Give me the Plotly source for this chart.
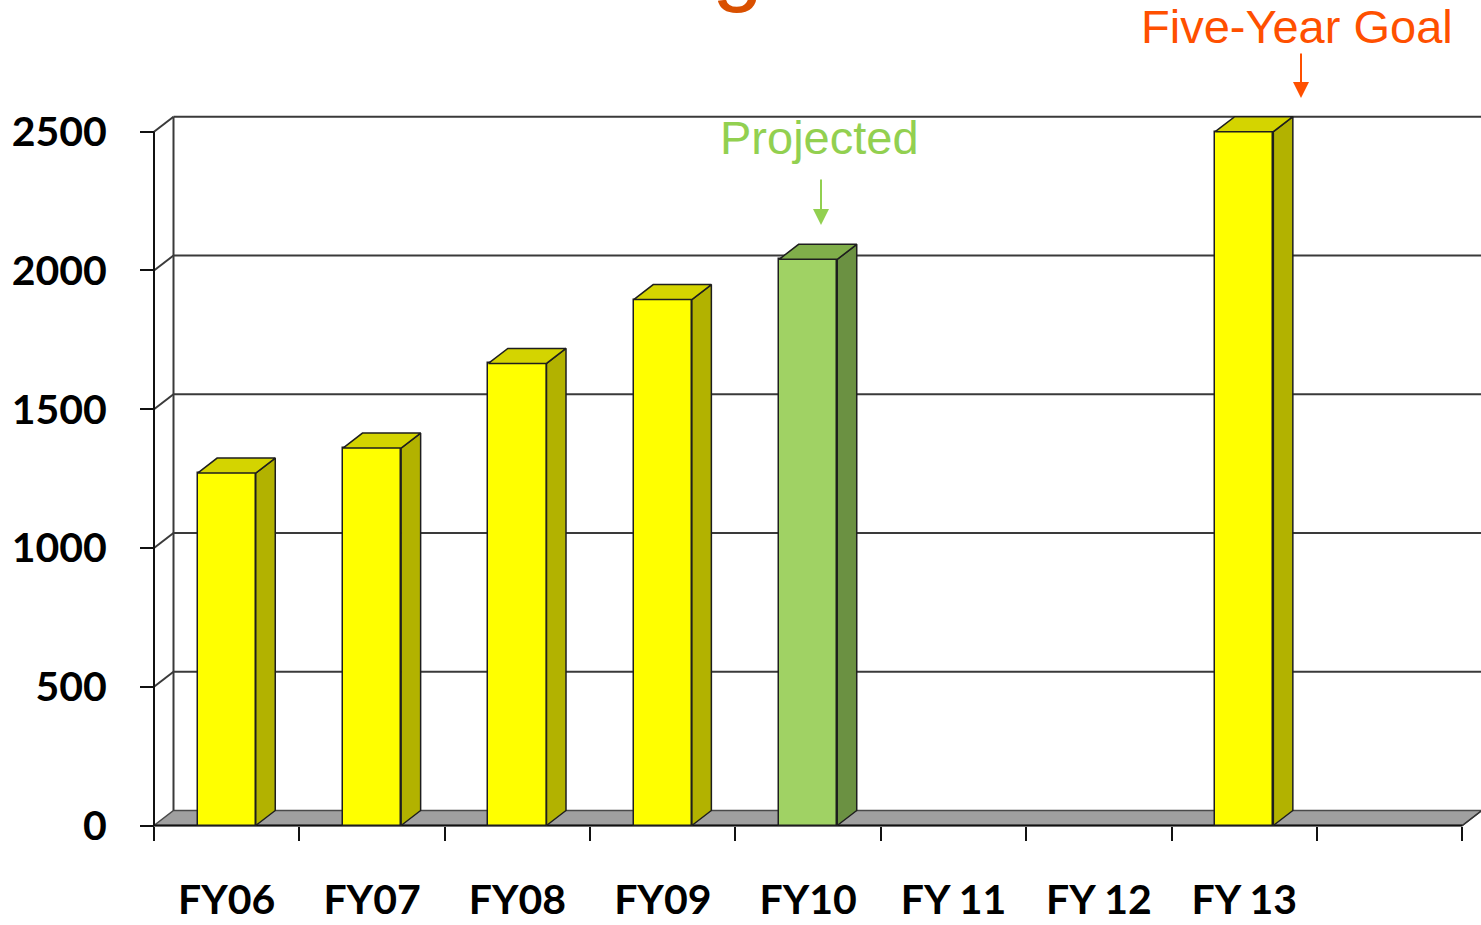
import plotly.graph_objects as go

# ---------------- data ----------------
categories = ["FY06", "FY07", "FY08", "FY09", "FY10", "FY 11", "FY 12", "FY 13", ""]
values = [1270, 1360, 1665, 1895, 2040, None, None, 2500, None]
status = ["actual", "actual", "actual", "actual", "projected", "none", "none", "goal", "none"]
y_ticks = [0, 500, 1000, 1500, 2000, 2500]

# ---------------- styling / geometry ----------------
W, H = 1481, 925
ML, MR, MT, MB = 140, 0, 100, 80
PLOT_W = W - ML - MR
PLOT_H = H - MT - MB

X0_PX = 154.0          # pixel of left category boundary
PX_PER_CAT = 145.37
Y0_PX = 825.5          # pixel of value 0
PX_PER_UNIT = 0.27752

def px2x(px):
    return -0.5 + (px - X0_PX) / PX_PER_CAT

def py2y(py):
    return (Y0_PX - py) / PX_PER_UNIT

def paper_x(px):
    return (px - ML) / PLOT_W

def paper_y(py):
    return (H - MB - py) / PLOT_H

x_range = [px2x(ML), px2x(W - MR)]
y_range = [py2y(H - MB), py2y(MT)]

DX = 19.5 / PX_PER_CAT     # depth offset in x units
DY = 15.0 / PX_PER_UNIT    # depth offset in y units
BAR_W = 0.40
n = len(categories)
left_edge = -0.5
right_edge = n - 0.5

colors = {
    "actual": dict(front="#FFFF00", top="#D4D400", side="#B2B200"),
    "goal": dict(front="#FFFF00", top="#D4D400", side="#B2B200"),
    "projected": dict(front="#A0D264", top="#80AE4A", side="#6B9142"),
}
EDGE = "#1E1E1E"
GRID = "#3A3A3A"

fig = go.Figure()

# ---------- walls, floor and gridlines (layout shapes, below traces) ----------
shapes = []
shapes.append(dict(
    type="path", xref="x", yref="y", layer="below",
    path=f"M {left_edge},0 L {right_edge},0 L {right_edge+DX},{DY} L {left_edge+DX},{DY} Z",
    fillcolor="#A0A0A0", line=dict(color="#4A4A4A", width=1.5)))
shapes.append(dict(type="line", xref="x", yref="y", layer="below",
                   x0=left_edge, y0=0, x1=right_edge, y1=0,
                   line=dict(color="#111111", width=2)))
shapes.append(dict(type="line", xref="x", yref="y", layer="below",
                   x0=right_edge, y0=0, x1=right_edge + DX, y1=DY,
                   line=dict(color="#333333", width=1.5)))
for v in y_ticks[1:]:
    shapes.append(dict(type="line", xref="x", yref="y", layer="below",
                       x0=left_edge, y0=v, x1=left_edge + DX, y1=v + DY,
                       line=dict(color=GRID, width=2)))
    shapes.append(dict(type="line", xref="x", yref="y", layer="below",
                       x0=left_edge + DX, y0=v + DY, x1=x_range[1] + 1, y1=v + DY,
                       line=dict(color=GRID, width=2)))
shapes.append(dict(type="line", xref="x", yref="y", layer="below",
                   x0=left_edge, y0=0, x1=left_edge, y1=y_ticks[-1],
                   line=dict(color="#111111", width=2)))
shapes.append(dict(type="line", xref="x", yref="y", layer="below",
                   x0=left_edge + DX, y0=DY, x1=left_edge + DX, y1=y_ticks[-1] + DY,
                   line=dict(color=GRID, width=2)))

# ---------- bars: front faces ----------
idx = list(range(n))
front_colors = [colors[s]["front"] if s in colors else "rgba(0,0,0,0)" for s in status]
fig.add_trace(go.Bar(
    x=idx, y=values, width=BAR_W,
    marker=dict(color=front_colors, line=dict(color=EDGE, width=1.5)),
    hoverinfo="skip", showlegend=False))

# ---------- bars: side and top faces ----------
for i, (v, s) in enumerate(zip(values, status)):
    if v is None:
        continue
    c = colors[s]
    xl, xr = i - BAR_W / 2, i + BAR_W / 2
    fig.add_trace(go.Scatter(
        x=[xr, xr + DX, xr + DX, xr, xr], y=[0, DY, v + DY, v, 0],
        mode="lines", fill="toself", fillcolor=c["side"],
        line=dict(color=EDGE, width=1.5), hoverinfo="skip", showlegend=False))
    fig.add_trace(go.Scatter(
        x=[xl, xr, xr + DX, xl + DX, xl], y=[v, v, v + DY, v + DY, v],
        mode="lines", fill="toself", fillcolor=c["top"],
        line=dict(color=EDGE, width=1.5), hoverinfo="skip", showlegend=False))

# ---------- annotations ----------
annotations = [
    dict(text="g", xref="paper", yref="paper", x=paper_x(737), y=paper_y(-38),
         xanchor="center", yanchor="middle", showarrow=False,
         font=dict(family="Liberation Sans, Arial", size=92, color="#D95000")),
    dict(text="Projected", xref="paper", yref="paper", x=paper_x(819.5), y=paper_y(137.0),
         xanchor="center", yanchor="middle", showarrow=False,
         font=dict(family="Liberation Sans, Arial", size=47, color="#92D050")),
    dict(text="", xref="paper", yref="paper", x=paper_x(821), y=paper_y(225),
         ax=0, ay=-47, showarrow=True, arrowhead=2, arrowsize=1.6, arrowwidth=2,
         arrowcolor="#92D050"),
    dict(text="Five-Year Goal", xref="paper", yref="paper", x=paper_x(1296.5), y=paper_y(27.0),
         xanchor="center", yanchor="middle", showarrow=False,
         font=dict(family="Liberation Sans, Arial", size=47, color="#FF5000")),
    dict(text="", xref="paper", yref="paper", x=paper_x(1301), y=paper_y(98),
         ax=0, ay=-46, showarrow=True, arrowhead=2, arrowsize=1.6, arrowwidth=2,
         arrowcolor="#FF5000"),
]

fig.update_layout(
    width=W, height=H,
    margin=dict(l=ML, r=MR, t=MT, b=MB, pad=0, autoexpand=False),
    paper_bgcolor="white", plot_bgcolor="white",
    showlegend=False, bargap=0,
    shapes=shapes, annotations=annotations,
    xaxis=dict(
        range=x_range, anchor="free", position=paper_y(Y0_PX), automargin=False,
        tickmode="array", tickvals=idx, ticktext=categories,
        ticks="", showline=False, showgrid=False, zeroline=False,
        tickfont=dict(family="Lato", size=41, color="black", weight="bold"),
        ticklabelstandoff=46,
        minor=dict(tickmode="array", tickvals=[i - 0.5 for i in range(n + 1)],
                   ticks="outside", ticklen=14, tickwidth=2, tickcolor="#111111",
                   showgrid=False),
    ),
    yaxis=dict(
        range=y_range, anchor="free", position=paper_x(X0_PX), automargin=False,
        tickmode="array", tickvals=y_ticks,
        ticks="outside", ticklen=14, tickwidth=2, tickcolor="#111111",
        showline=False, showgrid=False, zeroline=False,
        tickfont=dict(family="Lato", size=41, color="black", weight="bold"),
        ticklabelstandoff=25,
    ),
)

fig.write_html("out.html")
